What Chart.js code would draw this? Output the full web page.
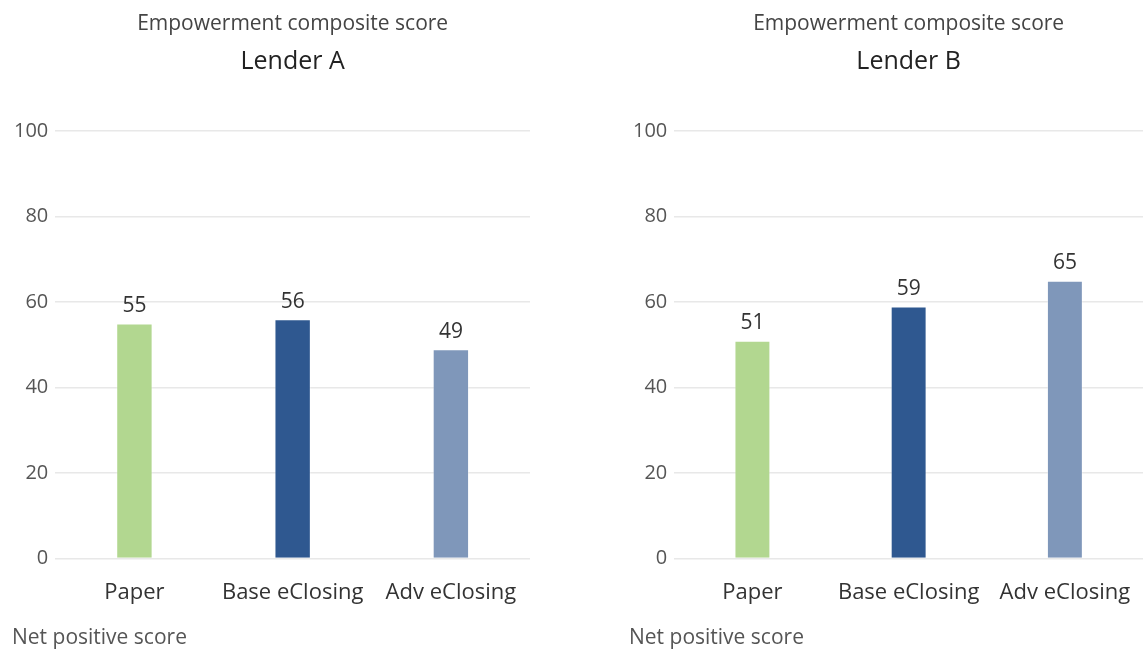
<!DOCTYPE html>
<html>
<head>
<meta charset="utf-8">
<title>Empowerment composite score</title>
<script src="https://cdn.jsdelivr.net/npm/chart.js@4"></script>
<style>
    html, body { margin: 0; padding: 0; background: #fff; }
    .wrap { display: flex; width: 1143px; height: 652px; }
    .box { position: relative; width: 571px; height: 652px; }
    .box.right { width: 572px; }
</style>
</head>
<body>
<div class="wrap">
    <div class="box"><canvas id="chartLenderA"></canvas></div>
    <div class="box right"><canvas id="chartLenderB"></canvas></div>
</div>
<script>
// Gegevens uit de grafiek
const categories = ['Paper', 'Base eClosing', 'Adv eClosing'];
const lenderAValues = [55, 56, 49];
const lenderBValues = [51, 59, 65];
const yTicks = [0, 20, 40, 60, 80, 100];
const chartTitle = 'Empowerment composite score';
const footNote = 'Net positive score';

const barColors = ['#b2d790', '#2f5890', '#7f97ba'];
const fontFamily = '"Open Sans", Lato, sans-serif';

// Waarde boven elke staaf tekenen
const valueLabels = {
    id: 'valueLabels',
    afterDatasetsDraw(chart) {
        const ctx = chart.ctx;
        const meta = chart.getDatasetMeta(0);
        ctx.save();
        ctx.font = '21px ' + fontFamily;
        ctx.fillStyle = '#333';
        ctx.textAlign = 'center';
        ctx.textBaseline = 'bottom';
        meta.data.forEach((bar, i) => {
            ctx.fillText(chart.data.datasets[0].data[i], bar.x, bar.y - 7);
        });
        ctx.restore();
    }
};

// Voetnoot links onderaan
const footLabel = {
    id: 'footLabel',
    afterDraw(chart) {
        const ctx = chart.ctx;
        ctx.save();
        ctx.font = '21px ' + fontFamily;
        ctx.fillStyle = '#555';
        ctx.textAlign = 'left';
        ctx.textBaseline = 'middle';
        ctx.fillText(footNote, chart.options.footX, 638);
        ctx.restore();
    }
};

function makeChart(canvasId, lender, values, padLeft, padRight, footX) {
    const ctx = document.getElementById(canvasId).getContext('2d');
    return new Chart(ctx, {
        type: 'bar',
        data: {
            labels: categories,
            datasets: [{
                data: values,
                backgroundColor: barColors,
                borderColor: 'rgba(255,255,255,0.35)',
                borderWidth: 1,
                barPercentage: 0.23,
                categoryPercentage: 1
            }]
        },
        options: {
            responsive: true,
            maintainAspectRatio: false,
            animation: false,
            footX: footX,
            layout: { padding: { top: 0, bottom: 43, left: padLeft, right: padRight } },
            plugins: {
                legend: { display: false },
                tooltip: { enabled: false },
                title: {
                    display: true,
                    text: chartTitle,
                    fullSize: false,
                    color: '#444',
                    font: { family: fontFamily, size: 21, weight: 'normal' },
                    padding: { top: 11, bottom: 4 }
                },
                subtitle: {
                    display: true,
                    text: lender,
                    fullSize: false,
                    color: '#222',
                    font: { family: fontFamily, size: 25, weight: '500' },
                    padding: { top: 7, bottom: 54 }
                }
            },
            scales: {
                x: {
                    // onzichtbare tick-streepjes zorgen voor de afstand tot de labels
                    grid: { display: true, drawOnChartArea: false, drawTicks: true, tickLength: 18, color: 'rgba(0,0,0,0)' },
                    border: { display: false },
                    ticks: {
                        color: '#333',
                        padding: 3,
                        font: { family: fontFamily, size: 22 }
                    }
                },
                y: {
                    min: 0,
                    max: 100,
                    afterBuildTicks(scale) {
                        scale.ticks = yTicks.map(v => ({ value: v }));
                    },
                    grid: { color: '#e8e8e8', lineWidth: 1.5, drawTicks: false },
                    border: { display: false },
                    ticks: {
                        color: '#555',
                        padding: 7,
                        font: { family: fontFamily, size: 20 }
                    }
                }
            }
        },
        plugins: [valueLabels, footLabel]
    });
}

makeChart('chartLenderA', 'Lender A', lenderAValues, 7, 41, 12);
makeChart('chartLenderB', 'Lender B', lenderBValues, 55, 0, 58);
</script>
</body>
</html>
